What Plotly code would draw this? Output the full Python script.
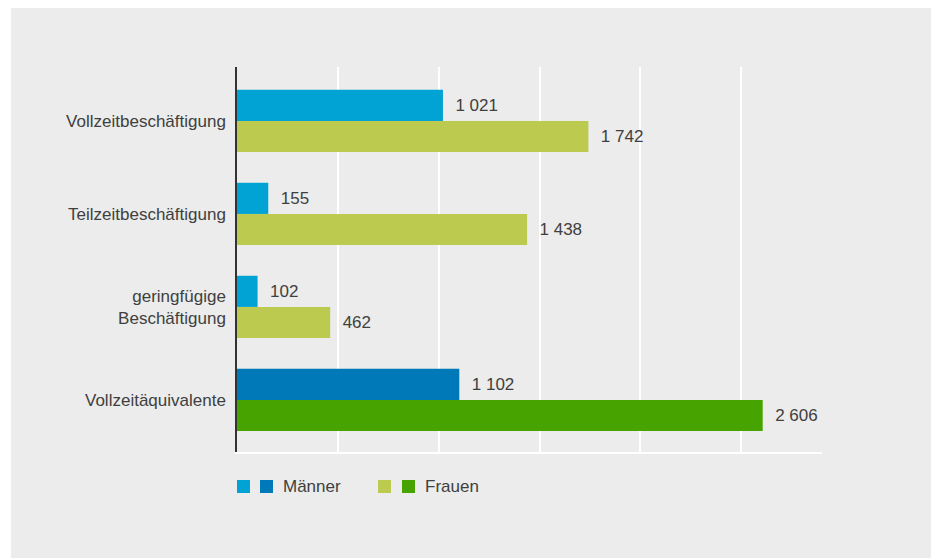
import plotly.graph_objects as go

categories = ["Vollzeitbeschäftigung", "Teilzeitbeschäftigung",
              "geringfügige<br>Beschäftigung", "Vollzeitäquivalente"]
maenner = [1021, 155, 102, 1102]
frauen = [1742, 1438, 462, 2606]
maenner_colors = ["#00a3d3", "#00a3d3", "#00a3d3", "#0079b9"]
frauen_colors = ["#bccb50", "#bccb50", "#bccb50", "#47a300"]
legend_names = ["Männer", "Frauen"]

W, H = 931, 558
L, R, T, B = 237, 109, 67, 106
pw, ph = W - L - R, H - T - B

def px(x):
    return (x - L) / pw

def py(y):
    return (H - B - y) / ph

font = dict(family="Liberation Sans, Arial, sans-serif", size=17, color="#404040")

fig = go.Figure()
fig.add_trace(go.Bar(y=categories, x=maenner, orientation="h", name=legend_names[0],
                     marker=dict(color=maenner_colors, line=dict(width=0)),
                     texttemplate="\u00a0\u00a0%{x:,}", textposition="outside",
                     textfont=font, cliponaxis=False, showlegend=False))
fig.add_trace(go.Bar(y=categories, x=frauen, orientation="h", name=legend_names[1],
                     marker=dict(color=frauen_colors, line=dict(width=0)),
                     texttemplate="\u00a0\u00a0%{x:,}", textposition="outside",
                     textfont=font, cliponaxis=False, showlegend=False))

shapes = [dict(type="rect", xref="paper", yref="paper", layer="below",
               x0=px(11), x1=px(W + 5), y0=py(H + 5), y1=py(8),
               fillcolor="#ebeceb", line=dict(width=0))]
# legend swatches
sw = [(237, maenner_colors[0]), (260, maenner_colors[3]),
      (378, frauen_colors[0]), (402, frauen_colors[3])]
for x0, c in sw:
    shapes.append(dict(type="rect", xref="paper", yref="paper",
                       x0=px(x0), x1=px(x0 + 13), y0=py(493), y1=py(480),
                       fillcolor=c, line=dict(width=0)))
annotations = [
    dict(xref="paper", yref="paper", x=px(281), y=py(486.5), text=legend_names[0],
         showarrow=False, xanchor="left", yanchor="middle", font=font),
    dict(xref="paper", yref="paper", x=px(423), y=py(486.5), text=legend_names[1],
         showarrow=False, xanchor="left", yanchor="middle", font=font),
]

fig.update_layout(
    width=W, height=H,
    margin=dict(l=L, r=R, t=T, b=B),
    paper_bgcolor="white",
    plot_bgcolor="rgba(0,0,0,0)",
    barmode="group", bargap=0.33, bargroupgap=0,
    separators=", ",
    font=font,
    shapes=shapes,
    annotations=annotations,
    showlegend=False,
    hovermode=False,
    xaxis=dict(range=[0, 2900], tickvals=[0, 500, 1000, 1500, 2000, 2500],
               showticklabels=False, showgrid=True, gridcolor="white", gridwidth=1.5,
               zeroline=False, showline=True, linecolor="white", linewidth=1.5,
               ticks="", fixedrange=True),
    yaxis=dict(autorange=False, range=[3.56, -0.58], type="category",
               showgrid=False, zeroline=False, showline=True, linecolor="#333333",
               linewidth=1.5, ticks="", ticklabelstandoff=6, tickfont=font,
               fixedrange=True),
)

fig.write_html("out.html",
               config={"displayModeBar": False},
               post_script="document.body.style.margin='0';document.body.style.overflow='hidden';")
